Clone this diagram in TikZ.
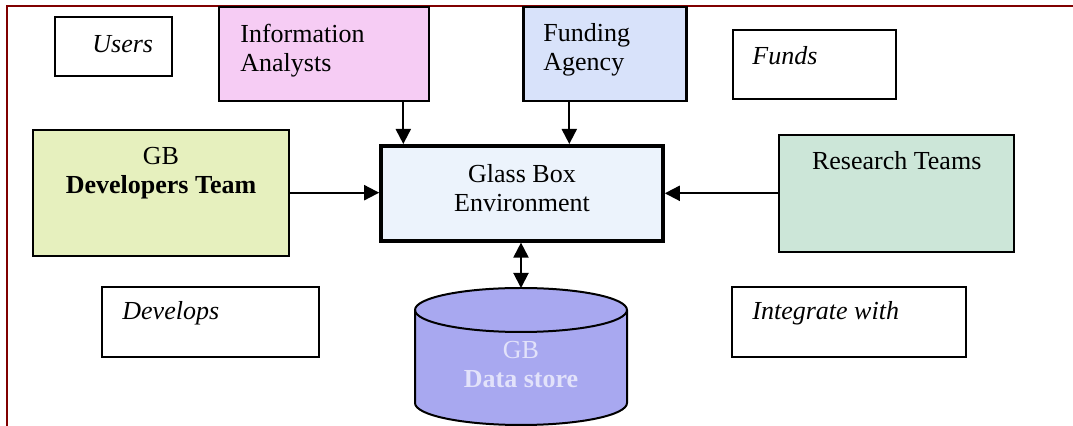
\documentclass[tikz,border=0pt]{standalone}
\usepackage{fontspec}
\setmainfont{Liberation Serif}
\usetikzlibrary{arrows.meta}
\definecolor{framered}{RGB}{128,0,0}
\definecolor{pinkfill}{RGB}{246,204,244}
\definecolor{bluefill}{RGB}{216,226,250}
\definecolor{yellowfill}{RGB}{230,240,190}
\definecolor{tealfill}{RGB}{204,230,216}
\definecolor{glassfill}{RGB}{236,243,252}
\definecolor{dbfill}{RGB}{168,168,240}
\definecolor{dbtext}{RGB}{226,226,250}
\begin{document}
\begin{tikzpicture}[x=0.5pt,y=-0.5pt,
  font=\fontsize{13}{14.5}\selectfont,
  box/.style={draw=black, line width=1pt, inner sep=0pt},
  colbox/.style={draw=black, line width=1.2pt, inner sep=0pt},
  txt/.style={inner sep=0pt},
  arr/.style={line width=1pt, -{Triangle[length=7.5pt,width=7.5pt]}},
  darr/.style={line width=1pt, {Triangle[length=7.5pt,width=7.5pt]}-{Triangle[length=7.5pt,width=7.5pt]}}
]
\useasboundingbox (0,0) rectangle (1073,426);
\draw[framered, line width=1.2pt] (7,426) -- (7,6) -- (1073,6);

% boxes
\node[box, minimum width=58.5pt, minimum height=29.5pt] (users) at (113.5,47) {};
\node[txt, anchor=base west] (usersT) at (92,52.5) {\textit{Users}};

\node[colbox, fill=pinkfill, minimum width=105pt, minimum height=47pt] (info) at (324,54) {};
\node[txt, anchor=base west, align=left] (infoT) at (240,72) {Information\\Analysts};

\node[colbox, fill=bluefill, minimum width=81.5pt, minimum height=47pt] (fund) at (605,54) {};
\node[txt, anchor=base west, align=left] (fundT) at (543,70.5) {Funding\\Agency};

\node[box, minimum width=81.5pt, minimum height=34.5pt] (funds) at (814,64.5) {};
\node[txt, anchor=base west] (fundsT) at (752,65) {\textit{Funds}};

\node[colbox, fill=yellowfill, minimum width=128pt, minimum height=63pt] (dev) at (160.7,193) {};
\node[txt, anchor=base, align=center] (devT) at (161,194) {GB\\\textbf{Developers Team}};

\node[draw=black, line width=1.8pt, fill=glassfill, inner sep=0pt, minimum width=141pt, minimum height=47.5pt] (glass) at (522,193.3) {};
\node[txt, anchor=base, align=center] (glassT) at (522,211.7) {Glass Box\\Environment};

\node[colbox, fill=tealfill, minimum width=117.5pt, minimum height=58.5pt] (research) at (896.7,193.7) {};
\node[txt, anchor=base] (researchT) at (896.7,170) {Research Teams};

\node[box, minimum width=108.5pt, minimum height=35pt] (develops) at (210.3,321.7) {};
\node[txt, anchor=base west] (developsT) at (122,320) {\textit{Develops}};

\node[box, minimum width=117pt, minimum height=35pt] (integ) at (848.8,321.7) {};
\node[txt, anchor=base west] (integT) at (752,320) {\textit{Integrate with}};

% data store cylinder
\draw[line width=1pt, fill=dbfill] (415,310) -- (415,403) arc (180:360:53pt and 11pt) -- (627,310) arc (0:180:53pt and 11pt) -- cycle;
\draw[line width=1pt] (415,310) arc (180:360:53pt and 11pt);
\coordinate (dbtop) at (521,288);
\node[txt, anchor=base, align=center, text=dbtext] (dbT) at (521,388) {GB\\\textbf{Data store}};

% connectors
\draw[arr] (info.south -| 403.3,0) -- (glass.north -| 403.3,0);
\draw[arr] (fund.south -| 569.3,0) -- (glass.north -| 569.3,0);
\draw[arr] (dev.east |- 0,192.7) -- (glass.west |- 0,192.7);
\draw[arr] (research.west |- 0,193.3) -- (glass.east |- 0,193.3);
\draw[darr] (glass.south -| dbtop) -- (dbtop);
\end{tikzpicture}
\end{document}
